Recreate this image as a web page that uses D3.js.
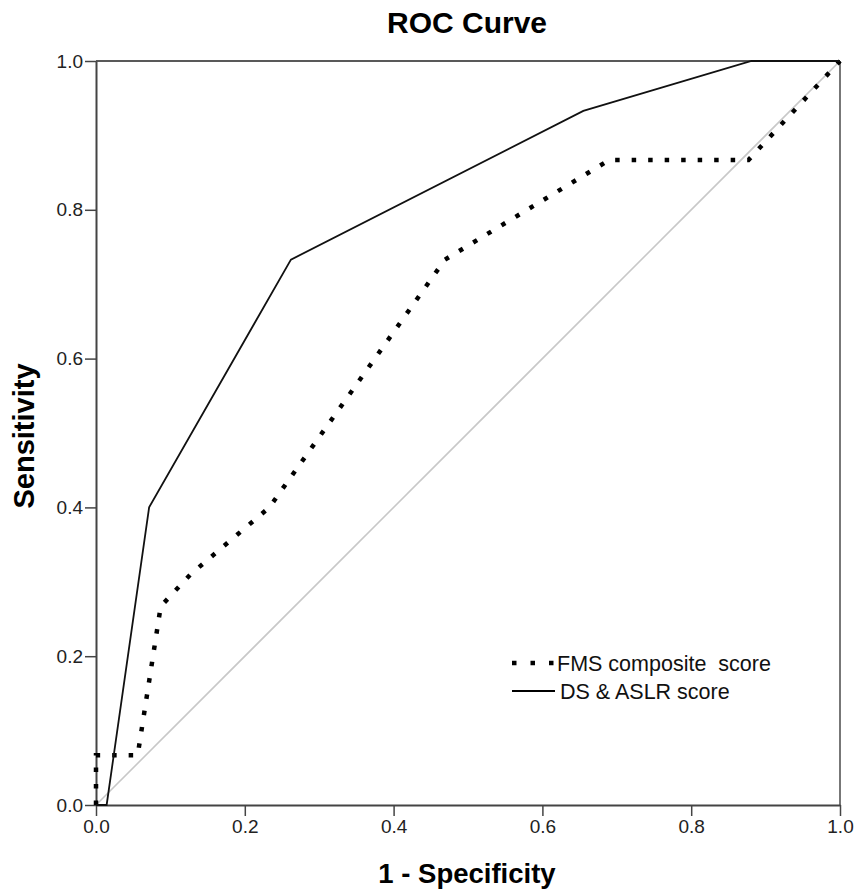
<!DOCTYPE html>
<html>
<head>
<meta charset="utf-8">
<script src="https://cdn.jsdelivr.net/npm/d3@7"></script>
<style>
  body { margin: 0; background: #fff; }
  svg text { font-family: "Liberation Sans", Arial, sans-serif; }
</style>
</head>
<body>
<svg width="859" height="892"></svg>
<script>
// ROC points (1 - specificity, sensitivity)
var fmsSpec = [0, 0, 0.056, 0.087, 0.127, 0.233, 0.469, 0.690, 0.877, 1];
var fmsSens = [0, 0.067, 0.067, 0.267, 0.310, 0.400, 0.733, 0.867, 0.867, 1];

var dsSpec = [0, 0.0143, 0.0714, 0.262, 0.655, 0.881, 1];
var dsSens = [0, 0, 0.400, 0.733, 0.933, 1, 1];

var refLine = [0, 1];

var ticks = [0, 0.2, 0.4, 0.6, 0.8, 1.0];
var seriesNames = ["FMS composite  score", "DS & ASLR score"];

var svg = d3.select("svg");

var plotLeft = 96, plotRight = 840, plotTop = 61, plotBottom = 805;

var x = d3.scaleLinear().domain([0, 1]).range([plotLeft, plotRight]);
var y = d3.scaleLinear().domain([0, 1]).range([plotBottom, plotTop]);

function toPoints(xs, ys) {
    return xs.map(function(v, i) { return [v, ys[i]]; });
}

var line = d3.line()
    .x(function(d) { return x(d[0]); })
    .y(function(d) { return y(d[1]); });

// title
svg.append("text")
    .attr("x", 467)
    .attr("y", 33)
    .attr("text-anchor", "middle")
    .attr("font-weight", "bold")
    .attr("font-size", 30)
    .text("ROC Curve");

// reference diagonal
svg.append("path")
    .attr("d", line(toPoints(refLine, refLine)))
    .attr("fill", "none")
    .attr("stroke", "#c8c8c8")
    .attr("stroke-width", 1.6);

// frame top / right
svg.append("line")
    .attr("x1", x(0)).attr("x2", x(1))
    .attr("y1", y(1)).attr("y2", y(1))
    .attr("stroke", "#222").attr("stroke-width", 1.6);
svg.append("line")
    .attr("x1", x(1)).attr("x2", x(1))
    .attr("y1", y(1)).attr("y2", y(0))
    .attr("stroke", "#777").attr("stroke-width", 2);

// axes
var xAxis = svg.append("g")
    .attr("transform", "translate(0," + plotBottom + ")")
    .call(d3.axisBottom(x).tickValues(ticks).tickFormat(d3.format(".1f")).tickSizeInner(11).tickSizeOuter(0).tickPadding(4));

var yAxis = svg.append("g")
    .attr("transform", "translate(" + plotLeft + ",0)")
    .call(d3.axisLeft(y).tickValues(ticks).tickFormat(d3.format(".1f")).tickSizeInner(11).tickSizeOuter(0).tickPadding(2));

[xAxis, yAxis].forEach(function(a) {
    a.select(".domain").attr("stroke", "#444").attr("stroke-width", 2);
    a.selectAll(".tick line").attr("stroke", "#444").attr("stroke-width", 1.5);
    a.selectAll(".tick text")
        .attr("font-size", 19)
        .attr("fill", "#222")
        .style("font-family", "'Liberation Sans', Arial, sans-serif");
});

// curves
svg.append("path")
    .attr("d", line(toPoints(fmsSpec, fmsSens)))
    .attr("fill", "none")
    .attr("stroke", "#000")
    .attr("stroke-width", 4.5)
    .attr("stroke-dasharray", "4.5,12");

svg.append("path")
    .attr("d", line(toPoints(dsSpec, dsSens)))
    .attr("fill", "none")
    .attr("stroke", "#111")
    .attr("stroke-width", 1.8);

// axis titles
svg.append("text")
    .attr("x", 467)
    .attr("y", 883)
    .attr("text-anchor", "middle")
    .attr("font-weight", "bold")
    .attr("font-size", 27.5)
    .text("1 - Specificity");

svg.append("text")
    .attr("transform", "translate(34,436) rotate(-90)")
    .attr("text-anchor", "middle")
    .attr("font-weight", "bold")
    .attr("font-size", 29)
    .text("Sensitivity");

// legend
var legend = svg.append("g");
var legendY = [663, 691];
legend.selectAll("line")
    .data(seriesNames)
    .enter()
    .append("line")
    .attr("x1", 512).attr("x2", 555)
    .attr("y1", function(d, i) { return legendY[i]; })
    .attr("y2", function(d, i) { return legendY[i]; })
    .attr("stroke", "#000")
    .attr("stroke-width", function(d, i) { return i === 0 ? 4.5 : 1.8; })
    .attr("stroke-dasharray", function(d, i) { return i === 0 ? "4.5,14" : null; });

legend.selectAll("text")
    .data(seriesNames)
    .enter()
    .append("text")
    .attr("x", function(d, i) { return i === 0 ? 557 : 560; })
    .attr("y", function(d, i) { return legendY[i] + 8; })
    .attr("font-size", 21.5)
    .attr("fill", "#111")
    .style("white-space", "pre")
    .text(function(d) { return d; });
</script>
</body>
</html>
